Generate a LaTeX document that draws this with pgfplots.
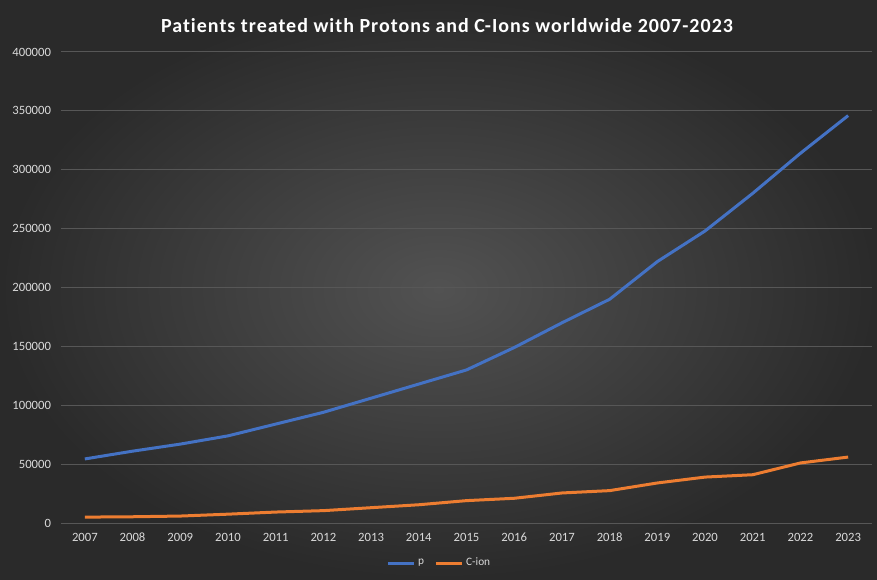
\documentclass[border=0pt]{standalone}
\usepackage{pgfplots}
\pgfplotsset{compat=1.18}
\usepackage{fontspec}
\setmainfont{Carlito}
\newfontfamily\titlefont[LetterSpace=5,Ligatures=NoCommon]{Carlito}
\definecolor{bgin}{HTML}{525252}
\definecolor{bgout}{HTML}{2A2A2A}
\definecolor{gridc}{HTML}{575757}
\definecolor{tickc}{HTML}{D9D9D9}
\definecolor{pblue}{HTML}{4472C4}
\definecolor{corange}{HTML}{ED7D31}
\begin{document}
\begin{tikzpicture}[x=1pt,y=1pt]
\shade[inner color=bgin, outer color=bgout] (0,0) rectangle (657.75,434.25);
\node[text=white, font=\titlefont\bfseries\fontsize{15}{17}\selectfont] at (335.25,414.75) {Patients treated with Protons and C-Ions worldwide 2007-2023};
\begin{axis}[
  at={(45.75pt,42pt)}, anchor=south west, scale only axis,
  width=608.25pt, height=353.25pt,
  xmin=2006.5, xmax=2023.5, ymin=0, ymax=400000,
  xtick={2007,2008,...,2023}, ytick={0,50000,...,400000},
  scaled y ticks=false,
  axis line style={draw=none},
  major tick length=0pt,
  ymajorgrids, grid style={gridc, line width=0.75pt},
  /pgf/number format/.cd, fixed, 1000 sep={}, assume math mode=true,
  /pgfplots/.cd,
  ticklabel style={text=tickc, font=\fontsize{9.5}{11}\selectfont},
  yticklabel style={xshift=-4pt},
  xticklabel style={yshift=-3pt, anchor=north, text height=7pt, text depth=0pt},
  legend style={at={(0.467,-0.085)}, anchor=center, draw=none, fill=none,
    text=tickc, font=\fontsize{8.5}{10}\selectfont, legend columns=2,
    /tikz/every even column/.append style={column sep=6pt}},
  legend image code/.code={\draw[#1, line width=2.25pt] (0pt,0pt) -- (0.68cm,0pt);},
]
\addplot[pblue, line width=2.25pt, line join=round] coordinates {
(2007,54400) (2008,61000) (2009,67000) (2010,74000) (2011,84000) (2012,94000)
(2013,106000) (2014,118000) (2015,130000) (2016,149000) (2017,170000) (2018,190000)
(2019,222000) (2020,248000) (2021,280000) (2022,314000) (2023,346000)};
\addlegendentry{p}
\addplot[corange, line width=2.25pt, line join=round] coordinates {
(2007,5000) (2008,5300) (2009,5900) (2010,7500) (2011,9300) (2012,10500)
(2013,13000) (2014,15500) (2015,19000) (2016,21000) (2017,25500) (2018,27500)
(2019,34000) (2020,39000) (2021,41000) (2022,51000) (2023,56000)};
\addlegendentry{C-ion}
\end{axis}
\end{tikzpicture}
\end{document}
